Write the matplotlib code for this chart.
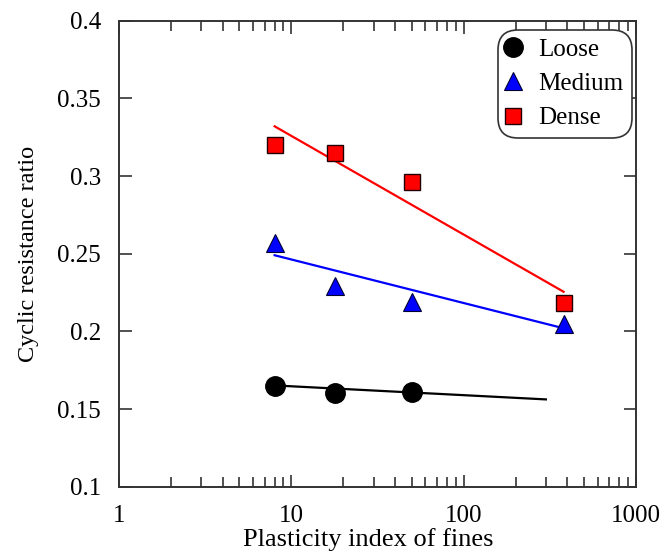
import matplotlib
matplotlib.use("Agg")
import matplotlib.pyplot as plt
from matplotlib.ticker import LogLocator, FixedLocator, NullFormatter, FixedFormatter

plt.rcParams['font.family'] = ['Liberation Serif', 'DejaVu Serif']
plt.rcParams['font.size'] = 18

# Data (plasticity index, cyclic resistance ratio)
pi_points = [8, 18, 50, 380]
loose_x = [8, 18, 50]
loose_y = [0.165, 0.160, 0.161]
medium_y = [0.257, 0.229, 0.219, 0.205]
dense_y = [0.320, 0.315, 0.296, 0.218]

# Trend line endpoints
loose_fit_x = [8, 300]
loose_fit_y = [0.1652, 0.1562]
medium_fit_x = [8, 380]
medium_fit_y = [0.249, 0.202]
dense_fit_x = [8, 380]
dense_fit_y = [0.332, 0.2255]

x_ticks = [1, 10, 100, 1000]
x_tick_labels = ["1", "10", "100", "1000"]
y_ticks = [0.1, 0.15, 0.2, 0.25, 0.3, 0.35, 0.4]
y_tick_labels = ["0.1", "0.15", "0.2", "0.25", "0.3", "0.35", "0.4"]

fig = plt.figure(figsize=(6.65, 5.56), dpi=100)
ax = fig.add_axes([119/665, 1-486.7/556, (636-119)/665, (486.7-20.7)/556])

ax.plot(loose_fit_x, loose_fit_y, color='black', lw=1.6, zorder=2)
ax.plot(medium_fit_x, medium_fit_y, color='#0000ff', lw=1.6, zorder=2)
ax.plot(dense_fit_x, dense_fit_y, color='#ff0000', lw=1.6, zorder=2)

ax.plot(loose_x, loose_y, 'o', ms=14, mfc='black', mec='black', ls='none', label='Loose', zorder=3)
ax.plot(pi_points, medium_y, '^', ms=13.5, mfc='#0000ff', mec='#000033', mew=0.8, ls='none', label='Medium', zorder=3)
ax.plot(pi_points, dense_y, 's', ms=12, mfc='#ff0000', mec='#220000', mew=1.0, ls='none', label='Dense', zorder=3)

ax.set_xscale('log')
ax.set_xlim(1, 1000)
ax.set_ylim(0.1, 0.4)
ax.xaxis.set_major_locator(FixedLocator(x_ticks))
ax.xaxis.set_major_formatter(FixedFormatter(x_tick_labels))
ax.xaxis.set_minor_locator(LogLocator(base=10, subs=range(2, 10)))
ax.xaxis.set_minor_formatter(NullFormatter())
ax.yaxis.set_major_locator(FixedLocator(y_ticks))
ax.yaxis.set_major_formatter(FixedFormatter(y_tick_labels))

ax.tick_params(which='both', direction='in', top=True, right=True, color='#333333', width=1.2)
ax.tick_params(which='major', length=9)
ax.tick_params(which='minor', length=7)
ax.tick_params(axis='x', which='major', pad=13)
ax.tick_params(axis='y', which='major', pad=13)
for s in ax.spines.values():
    s.set_color('#333333')
    s.set_linewidth(1.4)

ax.set_xlabel('Plasticity index of fines', fontsize=19)
ax.xaxis.set_label_coords(0.482, -0.088, transform=ax.transAxes)
ax.xaxis.label.set_va('top')
ax.set_ylabel('Cyclic resistance ratio', labelpad=13, fontsize=17.5)

leg = ax.legend(loc='upper right', bbox_to_anchor=(0.992, 0.98), borderaxespad=0,
                handlelength=0.6, handletextpad=0.7, borderpad=0.33, labelspacing=0.47,
                frameon=True, fancybox=True, edgecolor='#333333', framealpha=1)
leg.get_frame().set_boxstyle('round,pad=0,rounding_size=0.8')
leg.get_frame().set_linewidth(1.2)

fig.savefig('out.png', dpi=100)
